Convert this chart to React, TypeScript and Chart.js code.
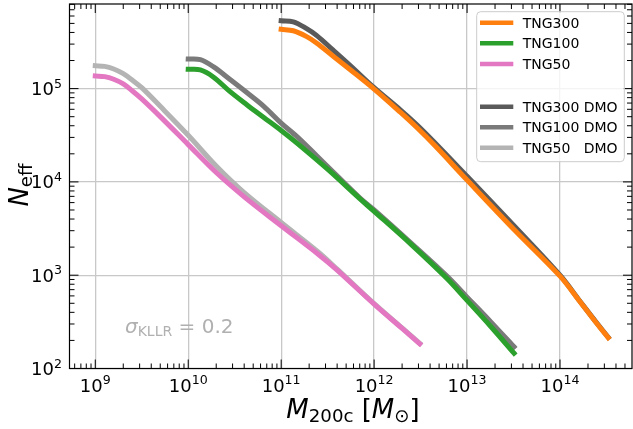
import React, { useEffect, useRef } from "react";
import { Chart, registerables } from "chart.js";

Chart.register(...registerables);

// Halo mass M200c [Msun] and effective sample size per simulation
const tng300Mass = [1e11, 1.35e11, 1.86e11, 2.4e11, 3.6e11, 5.5e11, 1e12, 1.9e12, 2.9e12, 4.5e12, 1e13, 3.2e13, 1e14, 1.6e14, 2.5e14, 3.3e14];
const tng300N = [4.325e5, 4.17e5, 3.63e5, 3.09e5, 2.24e5, 1.603e5, 9.89e4, 5.62e4, 3.8e4, 2.45e4, 1.047e4, 3.09e3, 977, 537, 302, 214];
const tng300DmoN = [5.35e5, 5.19e5, 4.42e5, 3.72e5, 2.6e5, 1.778e5, 1.023e5, 5.96e4, 4.07e4, 2.63e4, 1.148e4, 3.39e3, 1e3, 543, 305, 216];

const tng100Mass = [1e10, 1.35e10, 1.86e10, 2.8e10, 4.3e10, 6.5e10, 1e11, 1.5e11, 3.2e11, 7e11, 1e12, 2.5e12, 6e12, 1e13, 1.8e13, 3.2e13];
const tng100N = [1.61e5, 1.585e5, 1.334e5, 9.33e4, 6.68e4, 4.9e4, 3.55e4, 2.57e4, 1.35e4, 6.61e3, 4.84e3, 2.14e3, 933, 537, 282, 146];
const tng100DmoN = [2.075e5, 2.04e5, 1.718e5, 1.259e5, 9.02e4, 6.46e4, 4.27e4, 3.02e4, 1.445e4, 6.76e3, 5.01e3, 2.21e3, 989, 582, 316, 171];

const tng50Mass = [1e9, 1.26e9, 1.58e9, 2e9, 2.51e9, 3.16e9, 5e9, 1e10, 2e10, 4e10, 1e11, 2.5e11, 4e11, 1e12, 2e12, 3.1e12];
const tng50N = [1.365e5, 1.343e5, 1.259e5, 1.122e5, 9.44e4, 7.76e4, 5.01e4, 2.51e4, 1.26e4, 6.92e3, 3.39e3, 1.679e3, 1.135e3, 490, 269, 184];
const tng50DmoN = [1.758e5, 1.73e5, 1.622e5, 1.445e5, 1.23e5, 1.023e5, 6.46e4, 3.16e4, 1.48e4, 7.67e3, 3.67e3, 1.778e3, 1.161e3, 495, 272, 186];

const seriesLabels = ["TNG300", "TNG100", "TNG50", "TNG300 DMO", "TNG100 DMO", "TNG50   DMO"];
const seriesColors = ["#ff7f0e", "#2ca02c", "#e377c2", "#5a5a5a", "#7a7a7a", "#b4b4b4"];

const xTickExponents = [9, 10, 11, 12, 13, 14];
const yTickExponents = [2, 3, 4, 5];
const xRange = [5.28e8, 5.95e14];
const yRange = [100, 8.07e5];

const FONT = "'DejaVu Sans', 'Noto Sans', sans-serif";

const toPoints = (xs: number[], ys: number[]) => xs.map((x, i) => ({ x, y: ys[i] }));

function drawPower(ctx: CanvasRenderingContext2D, exp: number, x: number, baseline: number, align: "center" | "right") {
  const base = "10";
  const sup = String(exp);
  ctx.font = `18px ${FONT}`;
  const wb = ctx.measureText(base).width;
  ctx.font = `12.6px ${FONT}`;
  const ws = ctx.measureText(sup).width;
  const total = wb + ws;
  const left = align === "center" ? x - total / 2 : x - total;
  ctx.textAlign = "left";
  ctx.textBaseline = "alphabetic";
  ctx.font = `18px ${FONT}`;
  ctx.fillText(base, left, baseline);
  ctx.font = `12.6px ${FONT}`;
  ctx.fillText(sup, left + wb, baseline - 7.2);
}

const axesPlugin = {
  id: "axesDecor",
  afterDatasetsDraw(chart: any) {
    const { ctx, chartArea: a, scales } = chart;
    const xs = scales.x;
    const ys = scales.y;
    ctx.save();
    ctx.strokeStyle = "#000";
    ctx.lineWidth = 1;
    // inward ticks on all four sides
    for (let n = 8; n <= 14; n++) {
      for (let k = 1; k <= 9; k++) {
        const v = k * Math.pow(10, n);
        if (v < xRange[0] || v > xRange[1]) continue;
        const p = xs.getPixelForValue(v);
        const len = k === 1 ? 9 : 5;
        ctx.beginPath();
        ctx.moveTo(p, a.bottom);
        ctx.lineTo(p, a.bottom - len);
        ctx.moveTo(p, a.top);
        ctx.lineTo(p, a.top + len);
        ctx.stroke();
      }
    }
    for (let n = 2; n <= 5; n++) {
      for (let k = 1; k <= 9; k++) {
        const v = k * Math.pow(10, n);
        if (v < yRange[0] || v > yRange[1]) continue;
        const p = ys.getPixelForValue(v);
        const len = k === 1 ? 9 : 5;
        ctx.beginPath();
        ctx.moveTo(a.left, p);
        ctx.lineTo(a.left + len, p);
        ctx.moveTo(a.right, p);
        ctx.lineTo(a.right - len, p);
        ctx.stroke();
      }
    }
    // frame
    ctx.lineWidth = 1.2;
    ctx.strokeRect(a.left, a.top, a.right - a.left, a.bottom - a.top);

    // tick labels
    ctx.fillStyle = "#000";
    xTickExponents.forEach((e) => {
      drawPower(ctx, e, xs.getPixelForValue(Math.pow(10, e)), 391.5, "center");
    });
    yTickExponents.forEach((e) => {
      drawPower(ctx, e, 62, ys.getPixelForValue(Math.pow(10, e)) + 6.4, "right");
    });

    // x axis title: M_200c [M_sun]
    const parts: [string, string, number][] = [
      ["M", "italic 26px", 0],
      ["200c", "18.2px", 4],
      [" [", "26px", 0],
      ["M", "italic 26px", 0],
      ["\u2299", "18.2px", 4],
      ["]", "26px", 0],
    ];
    let width = 0;
    parts.forEach(([t, f]) => {
      ctx.font = `${f} ${FONT}`;
      width += ctx.measureText(t).width;
    });
    let cx = 353 - width / 2;
    ctx.textAlign = "left";
    parts.forEach(([t, f, dy]) => {
      ctx.font = `${f} ${FONT}`;
      ctx.fillText(t, cx, 418 + dy);
      cx += ctx.measureText(t).width;
    });

    // y axis title: N_eff
    ctx.save();
    ctx.translate(28.3, 185);
    ctx.rotate(-Math.PI / 2);
    ctx.font = `italic 26px ${FONT}`;
    const wN = ctx.measureText("N").width;
    ctx.font = `18.2px ${FONT}`;
    const wE = ctx.measureText("eff").width;
    const sx = -(wN + wE) / 2;
    ctx.font = `italic 26px ${FONT}`;
    ctx.fillText("N", sx, 0);
    ctx.font = `18.2px ${FONT}`;
    ctx.fillText("eff", sx + wN, 3.4);
    ctx.restore();

    // kernel width annotation
    ctx.fillStyle = "#b0b0b0";
    let ax = 125;
    ctx.font = `italic 20px ${FONT}`;
    ctx.fillText("\u03c3", ax, 333);
    ax += ctx.measureText("\u03c3").width;
    ctx.font = `14px ${FONT}`;
    ctx.fillText("KLLR", ax, 336);
    ax += ctx.measureText("KLLR").width;
    ctx.font = `20px ${FONT}`;
    ctx.fillText(" = 0.2", ax, 333);

    // legend
    const lx = 476.7, ly = 11.7, lw = 147.6, lh = 150;
    ctx.beginPath();
    ctx.roundRect(lx, ly, lw, lh, 4);
    ctx.fillStyle = "rgba(255,255,255,0.8)";
    ctx.fill();
    ctx.strokeStyle = "#cccccc";
    ctx.lineWidth = 1;
    ctx.stroke();
    const rows = [22.7, 43.3, 64, 106.7, 127.3, 147.7];
    ctx.font = `14px ${FONT}`;
    rows.forEach((ry, i) => {
      ctx.strokeStyle = seriesColors[i];
      ctx.lineWidth = 4.5;
      ctx.lineCap = "butt";
      ctx.beginPath();
      ctx.moveTo(480, ry);
      ctx.lineTo(513.3, ry);
      ctx.stroke();
      ctx.fillStyle = "#000";
      ctx.fillText(seriesLabels[i], 522.7, ry + 5.1);
    });
    ctx.restore();
  },
};

export default function App() {
  const ref = useRef<HTMLCanvasElement | null>(null);

  useEffect(() => {
    if (!ref.current) return;
    const masses = [tng300Mass, tng100Mass, tng50Mass, tng300Mass, tng100Mass, tng50Mass];
    const values = [tng300N, tng100N, tng50N, tng300DmoN, tng100DmoN, tng50DmoN];
    const chart = new Chart(ref.current, {
      type: "line",
      data: {
        datasets: seriesLabels.map((label, i) => ({
          label,
          data: toPoints(masses[i], values[i]),
          borderColor: seriesColors[i],
          backgroundColor: seriesColors[i],
          borderWidth: 5,
          pointRadius: 0,
          borderCapStyle: "square" as const,
          tension: 0.35,
          fill: false,
        })),
      },
      options: {
        animation: false,
        responsive: false,
        devicePixelRatio: 1,
        layout: { padding: { left: 69.5, right: 1, top: 4, bottom: 60.5 } },
        plugins: { legend: { display: false }, tooltip: { enabled: false } },
        scales: {
          x: {
            type: "logarithmic",
            min: xRange[0],
            max: xRange[1],
            afterBuildTicks: (s: any) => {
              s.ticks = xTickExponents.map((e) => ({ value: Math.pow(10, e) }));
            },
            ticks: { display: false },
            grid: { color: "#c8c8c8", lineWidth: 1.3, drawTicks: false },
            border: { display: false },
          },
          y: {
            type: "logarithmic",
            min: yRange[0],
            max: yRange[1],
            afterBuildTicks: (s: any) => {
              s.ticks = yTickExponents.map((e) => ({ value: Math.pow(10, e) }));
            },
            ticks: { display: false },
            grid: { color: "#c8c8c8", lineWidth: 1.3, drawTicks: false },
            border: { display: false },
          },
        },
      },
      plugins: [axesPlugin],
    });
    return () => chart.destroy();
  }, []);

  return (
    <div style={{ position: "absolute", left: 0, top: 0, width: 633, height: 429, background: "#fff" }}>
      <canvas ref={ref} width={633} height={429} />
    </div>
  );
}
